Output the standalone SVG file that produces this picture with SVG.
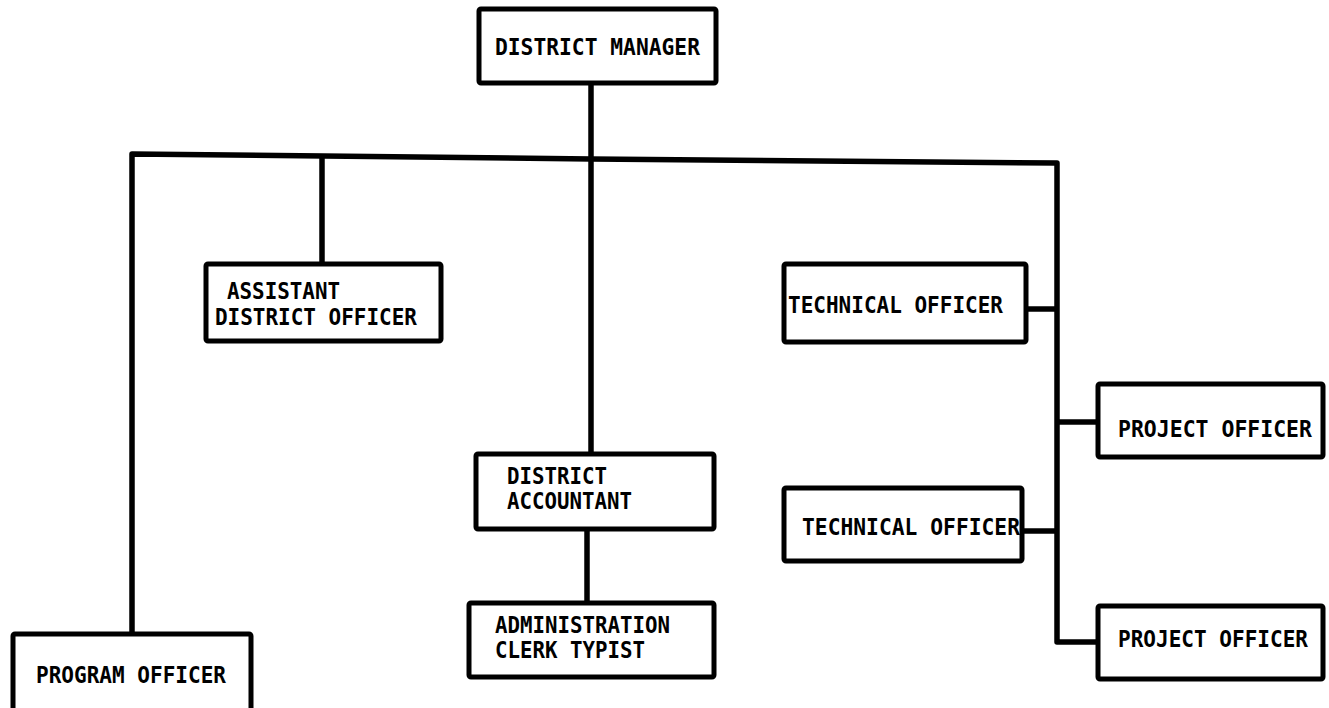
<svg xmlns="http://www.w3.org/2000/svg" width="1329" height="708" viewBox="0 0 1329 708">
  <style>
    .box { fill: #ffffff; stroke: #000000; stroke-width: 5; }
    .link { fill: none; stroke: #000000; stroke-width: 5.5; stroke-linejoin: round; stroke-linecap: butt; }
    .label { font-family: "DejaVu Sans Mono", "Liberation Mono", monospace; font-weight: bold; font-size: 23px; fill: #000000; }
  </style>
  <rect width="1329" height="708" fill="#ffffff"/>

  <!-- reporting lines -->
  <g id="connectors">
    <path class="link" d="M591 84 V456"/>
    <path class="link" d="M132 633 V154 L591 159 L1057 163 V642 H1097"/>
    <path class="link" d="M322 157 V264"/>
    <path class="link" d="M587 530 V603"/>
    <path class="link" d="M1027 309 H1057"/>
    <path class="link" d="M1057 422 H1097"/>
    <path class="link" d="M1023 531 H1057"/>
  </g>

  <g id="district-manager">
    <rect class="box" x="479" y="9" width="237" height="74" rx="2"/>
    <text class="label" x="495" y="55" textLength="205" lengthAdjust="spacingAndGlyphs">DISTRICT MANAGER</text>
  </g>

  <g id="assistant-district-officer">
    <rect class="box" x="206" y="264" width="235" height="77" rx="2"/>
    <text class="label" x="227" y="299" textLength="113" lengthAdjust="spacingAndGlyphs">ASSISTANT</text>
    <text class="label" x="215" y="325" textLength="202" lengthAdjust="spacingAndGlyphs">DISTRICT OFFICER</text>
  </g>

  <g id="program-officer">
    <rect class="box" x="13" y="634" width="238" height="80" rx="2"/>
    <text class="label" x="36" y="683" textLength="190" lengthAdjust="spacingAndGlyphs">PROGRAM OFFICER</text>
  </g>

  <g id="district-accountant">
    <rect class="box" x="476" y="454" width="238" height="75" rx="2"/>
    <text class="label" x="507" y="484" textLength="100" lengthAdjust="spacingAndGlyphs">DISTRICT</text>
    <text class="label" x="507" y="509" textLength="125" lengthAdjust="spacingAndGlyphs">ACCOUNTANT</text>
  </g>

  <g id="administration-clerk-typist">
    <rect class="box" x="469" y="603" width="245" height="74" rx="2"/>
    <text class="label" x="495" y="633" textLength="175" lengthAdjust="spacingAndGlyphs">ADMINISTRATION</text>
    <text class="label" x="495" y="658" textLength="150" lengthAdjust="spacingAndGlyphs">CLERK TYPIST</text>
  </g>

  <g id="technical-officer-1">
    <rect class="box" x="784" y="264" width="242" height="78" rx="2"/>
    <text class="label" x="788" y="313" textLength="215" lengthAdjust="spacingAndGlyphs">TECHNICAL OFFICER</text>
  </g>

  <g id="technical-officer-2">
    <rect class="box" x="784" y="488" width="238" height="73" rx="2"/>
    <text class="label" x="802" y="535" textLength="218" lengthAdjust="spacingAndGlyphs">TECHNICAL OFFICER</text>
  </g>

  <g id="project-officer-1">
    <rect class="box" x="1098" y="384" width="225" height="73" rx="2"/>
    <text class="label" x="1118" y="437" textLength="194" lengthAdjust="spacingAndGlyphs">PROJECT OFFICER</text>
  </g>

  <g id="project-officer-2">
    <rect class="box" x="1098" y="606" width="225" height="73" rx="2"/>
    <text class="label" x="1118" y="647" textLength="190" lengthAdjust="spacingAndGlyphs">PROJECT OFFICER</text>
  </g>
</svg>
